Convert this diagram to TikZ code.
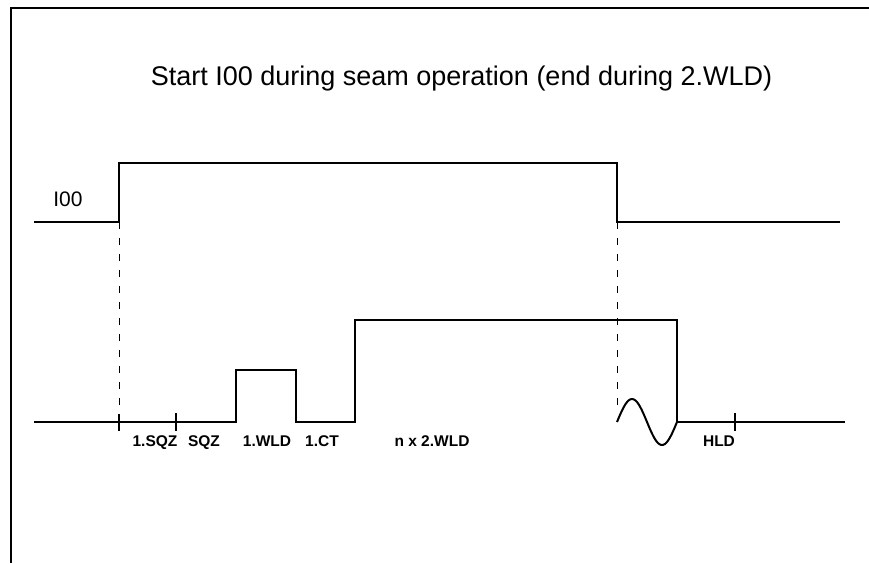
\documentclass[tikz,border=0pt]{standalone}
\usepackage{fontspec}
\setmainfont{Liberation Sans}
\begin{document}
\begin{tikzpicture}[x=1pt,y=-1pt,
  sig/.style={line width=2pt, line join=miter},
  frame/.style={line width=1.5pt},
  guide/.style={line width=1pt, dash pattern=on 7pt off 9pt},
  tick/.style={line width=2pt},
  lbl/.style={font=\fontsize{15.5}{18}\selectfont\bfseries, inner sep=0pt, anchor=base},
  title/.style={font=\fontsize{27}{32}\selectfont, inner sep=0pt, anchor=base},
  sname/.style={font=\fontsize{21}{25}\selectfont, inner sep=0pt, anchor=base}]
\useasboundingbox (0,0) rectangle (869,563);
% frame
\coordinate (fl) at (11,563);
\coordinate (fc) at (11,8);
\coordinate (fr) at (869,8);
\draw[frame] (fl) -- (fc) -- (fr);
% title
\node[title] (t) at (461.5,85) {Start I00 during seam operation (end during 2.WLD)};
\node[sname] (s1) at (68,206) {I00};
% signal I00
\coordinate (a0) at (34,222);
\coordinate (a1) at (119,222);
\coordinate (a2) at (119,163);
\coordinate (a3) at (617,163);
\coordinate (a4) at (617,222);
\coordinate (a5) at (840,222);
\draw[sig] (a0) -- (a1) -- (a2) -- (a3) -- (a4) -- (a5);
% signal 2
\coordinate (b0) at (34,422);
\coordinate (b1) at (236,422);
\coordinate (b2) at (236,370);
\coordinate (b3) at (296,370);
\coordinate (b4) at (296,422);
\coordinate (b5) at (355,422);
\coordinate (b6) at (355,320);
\coordinate (b7) at (677,320);
\coordinate (b8) at (677,422);
\coordinate (b9) at (845,422);
\coordinate (w0) at (617,422);
\draw[sig] (b0) -- (b1) -- (b2) -- (b3) -- (b4) -- (b5) -- (b6) -- (b7) -- (b8) -- (b9);
\draw[sig, line join=round] plot[domain=0:60, samples=61, smooth] ({617+\x},{422-23*sin(6*\x)});
% ticks
\coordinate (k1t) at (119,414); \coordinate (k1b) at (119,431);
\coordinate (k2t) at (176,413); \coordinate (k2b) at (176,431);
\coordinate (k3t) at (735,413); \coordinate (k3b) at (735,431);
\draw[tick] (k1t) -- (k1b);
\draw[tick] (k2t) -- (k2b);
\draw[tick] (k3t) -- (k3b);
% dashed guides
\coordinate (g1) at (119,415);
\coordinate (g2) at (617,405);
\draw[guide] (a1) -- (g1);
\draw[guide] (a4) -- (g2);
% labels
\node[lbl] (l1) at (155,446) {1.SQZ};
\node[lbl] (l2) at (204,446) {SQZ};
\node[lbl] (l3) at (267,446) {1.WLD};
\node[lbl] (l4) at (322,446) {1.CT};
\node[lbl] (l5) at (432,446) {n x 2.WLD};
\node[lbl] (l6) at (719,446) {HLD};
\end{tikzpicture}
\end{document}
